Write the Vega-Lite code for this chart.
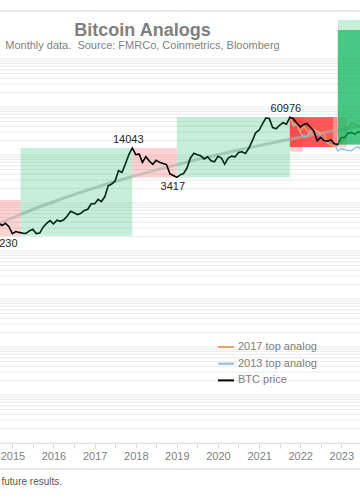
{
 "$schema": "https://vega.github.io/schema/vega-lite/v6.json",
 "width": 360, "height": 432,
 "autosize": {"type": "none"},
 "padding": {"left": 0, "top": 11, "right": 0, "bottom": 56},
 "background": "white",
 "config": {"view": {"stroke": null}, "font": "Liberation Sans"},
 "title": {"text": "Bitcoin Analogs", "subtitle": "Monthly data.\u00a0 Source: FMRCo, Coinmetrics, Bloomberg", "anchor": "middle", "dx": -37.5, "offset": -40, "fontSize": 18, "fontWeight": "bold", "color": "#7f7f7f", "subtitleFontSize": 11, "subtitleColor": "#7f7f7f", "subtitlePadding": 0, "font": "Liberation Sans", "subtitleFont": "Liberation Sans"},
 "datasets": {
  "hgrid": [{"v":0.01},{"v":0.02},{"v":0.03},{"v":0.04},{"v":0.05},{"v":0.06},{"v":0.07},{"v":0.08},{"v":0.09},
   {"v":0.1},{"v":0.2},{"v":0.3},{"v":0.4},{"v":0.5},{"v":0.6},{"v":0.7},{"v":0.8},{"v":0.9},
   {"v":1},{"v":2},{"v":3},{"v":4},{"v":5},{"v":6},{"v":7},{"v":8},{"v":9},
   {"v":10},{"v":20},{"v":30},{"v":40},{"v":50},{"v":60},{"v":70},{"v":80},{"v":90},
   {"v":100},{"v":200},{"v":300},{"v":400},{"v":500},{"v":600},{"v":700},{"v":800},{"v":900},
   {"v":1000},{"v":2000},{"v":3000},{"v":4000},{"v":5000},{"v":6000},{"v":7000},{"v":8000},{"v":9000},
   {"v":10000},{"v":20000},{"v":30000},{"v":40000},{"v":50000},{"v":60000},{"v":70000},{"v":80000},{"v":90000},
   {"v":100000},{"v":200000},{"v":300000},{"v":400000},{"v":500000},{"v":600000},{"v":700000},{"v":800000},{"v":900000},
   {"v":1000000}],
  "vgrid": [{"date":"2015-01-01"},{"date":"2015-07-01"},{"date":"2016-01-01"},{"date":"2016-07-01"},{"date":"2017-01-01"},{"date":"2017-07-01"},{"date":"2018-01-01"},{"date":"2018-07-01"},{"date":"2019-01-01"},{"date":"2019-07-01"},{"date":"2020-01-01"},{"date":"2020-07-01"},{"date":"2021-01-01"},{"date":"2021-07-01"},{"date":"2022-01-01"},{"date":"2022-07-01"},{"date":"2023-01-01"}],
  "redboxes": [
   {"date":"2013-11-01","end":"2015-03-15","low":205,"high":1155},
   {"date":"2017-12-01","end":"2019-01-01","low":3417,"high":14043},
   {"date":"2021-10-01","end":"2022-01-25","low":11700,"high":60976},
   {"date":"2021-10-01","end":"2022-10-20","low":14700,"high":60976},
   {"date":"2021-10-01","end":"2022-10-20","low":14700,"high":60976},
   {"date":"2021-10-01","end":"2022-10-20","low":14700,"high":60976},
   {"date":"2021-10-01","end":"2022-11-25","low":14700,"high":60976},
   {"date":"2021-10-01","end":"2022-11-25","low":14700,"high":60976},
   {"date":"2021-10-01","end":"2023-02-20","low":14700,"high":60976}
  ],
  "greenboxes": [
   {"date":"2015-03-15","end":"2017-12-01","low":208,"high":14043},
   {"date":"2019-01-01","end":"2021-10-01","low":3417,"high":60976},
   {"date":"2022-12-01","end":"2026-01-01","low":16548,"high":6500000},
   {"date":"2022-12-01","end":"2026-01-01","low":16548,"high":4000000},
   {"date":"2022-12-01","end":"2026-01-01","low":16548,"high":4000000},
   {"date":"2022-12-01","end":"2026-01-01","low":16548,"high":4000000},
   {"date":"2022-12-01","end":"2026-01-01","low":16548,"high":4000000}
  ],
  "trend": [
   {"date":"2014-07-01","v":318},{"date":"2015-01-01","v":491},{"date":"2015-07-01","v":732},{"date":"2016-01-01","v":1061},{"date":"2016-07-01","v":1498},{"date":"2017-01-01","v":2068},{"date":"2017-07-01","v":2799},{"date":"2018-01-01","v":3724},{"date":"2018-07-01","v":4881},{"date":"2019-01-01","v":6310},{"date":"2019-07-01","v":8054},{"date":"2020-01-01","v":10163},{"date":"2020-07-01","v":12693},{"date":"2021-01-01","v":15703},{"date":"2021-07-01","v":19259},{"date":"2022-01-01","v":23418},{"date":"2022-07-01","v":28281},{"date":"2023-01-01","v":33926},{"date":"2023-07-01","v":40458},{"date":"2024-01-01","v":47907}
  ],
  "a17": [
   {"date":"2021-10-01","v":60976},{"date":"2021-11-01","v":44380},{"date":"2021-12-01","v":45144},{"date":"2022-01-01","v":30277},{"date":"2022-02-01","v":40120},{"date":"2022-03-01","v":32539},{"date":"2022-04-01","v":27806},{"date":"2022-05-01","v":33781},{"date":"2022-06-01","v":30555},{"date":"2022-07-01","v":28766},{"date":"2022-08-01","v":27429},{"date":"2022-09-01","v":17442},{"date":"2022-10-01","v":16248},{"date":"2022-11-01","v":14837},{"date":"2022-12-01","v":16734},{"date":"2023-01-01","v":17824},{"date":"2023-02-01","v":23230},{"date":"2023-03-01","v":37228},{"date":"2023-04-01","v":46967},{"date":"2023-05-01","v":43789},{"date":"2023-06-01","v":41813},{"date":"2023-07-01","v":36008}
  ],
  "a13": [
   {"date":"2021-10-01","v":60976},{"date":"2021-11-01","v":39962},{"date":"2021-12-01","v":43990},{"date":"2022-01-01","v":29150},{"date":"2022-02-01","v":24221},{"date":"2022-03-01","v":23744},{"date":"2022-04-01","v":33284},{"date":"2022-05-01","v":33920},{"date":"2022-06-01","v":31111},{"date":"2022-07-01","v":25440},{"date":"2022-08-01","v":20511},{"date":"2022-09-01","v":17914},{"date":"2022-10-01","v":20034},{"date":"2022-11-01","v":16960},{"date":"2022-12-01","v":12190},{"date":"2023-01-01","v":13462},{"date":"2023-02-01","v":12932},{"date":"2023-03-01","v":12508},{"date":"2023-04-01","v":12190},{"date":"2023-05-01","v":13939},{"date":"2023-06-01","v":15052},{"date":"2023-07-01","v":12190}
  ],
  "btc": [
   {"date":"2014-08-01","v":480},{"date":"2014-09-01","v":387},{"date":"2014-10-01","v":338},{"date":"2014-11-01","v":378},{"date":"2014-12-01","v":320},
   {"date":"2015-01-01","v":230},{"date":"2015-02-01","v":254},{"date":"2015-03-01","v":244},{"date":"2015-04-01","v":236},{"date":"2015-05-01","v":232},{"date":"2015-06-01","v":263},{"date":"2015-07-01","v":284},{"date":"2015-08-01","v":231},{"date":"2015-09-01","v":236},{"date":"2015-10-01","v":314},{"date":"2015-11-01","v":377},{"date":"2015-12-01","v":430},
   {"date":"2016-01-01","v":368},{"date":"2016-02-01","v":437},{"date":"2016-03-01","v":416},{"date":"2016-04-01","v":448},{"date":"2016-05-01","v":531},{"date":"2016-06-01","v":673},{"date":"2016-07-01","v":624},{"date":"2016-08-01","v":575},{"date":"2016-09-01","v":609},{"date":"2016-10-01","v":698},{"date":"2016-11-01","v":742},{"date":"2016-12-01","v":963},
   {"date":"2017-01-01","v":970},{"date":"2017-02-01","v":1190},{"date":"2017-03-01","v":1071},{"date":"2017-04-01","v":1348},{"date":"2017-05-01","v":2286},{"date":"2017-06-01","v":2480},{"date":"2017-07-01","v":2875},{"date":"2017-08-01","v":4703},{"date":"2017-09-01","v":4338},{"date":"2017-10-01","v":6468},{"date":"2017-11-01","v":10233},{"date":"2017-12-01","v":14043},
   {"date":"2018-01-01","v":10221},{"date":"2018-02-01","v":10397},{"date":"2018-03-01","v":6973},{"date":"2018-04-01","v":9240},{"date":"2018-05-01","v":7494},{"date":"2018-06-01","v":6404},{"date":"2018-07-01","v":7780},{"date":"2018-08-01","v":7037},{"date":"2018-09-01","v":6625},{"date":"2018-10-01","v":6317},{"date":"2018-11-01","v":4017},{"date":"2018-12-01","v":3742},
   {"date":"2019-01-01","v":3417},{"date":"2019-02-01","v":3854},{"date":"2019-03-01","v":4105},{"date":"2019-04-01","v":5350},{"date":"2019-05-01","v":8574},{"date":"2019-06-01","v":10817},{"date":"2019-07-01","v":10085},{"date":"2019-08-01","v":9630},{"date":"2019-09-01","v":8293},{"date":"2019-10-01","v":9199},{"date":"2019-11-01","v":7569},{"date":"2019-12-01","v":7193},
   {"date":"2020-01-01","v":9350},{"date":"2020-02-01","v":8599},{"date":"2020-03-01","v":6438},{"date":"2020-04-01","v":8658},{"date":"2020-05-01","v":9461},{"date":"2020-06-01","v":9137},{"date":"2020-07-01","v":11323},{"date":"2020-08-01","v":11680},{"date":"2020-09-01","v":10784},{"date":"2020-10-01","v":13781},{"date":"2020-11-01","v":19625},{"date":"2020-12-01","v":29001},
   {"date":"2021-01-01","v":33114},{"date":"2021-02-01","v":45137},{"date":"2021-03-01","v":58918},{"date":"2021-04-01","v":57750},{"date":"2021-05-01","v":37332},{"date":"2021-06-01","v":35041},{"date":"2021-07-01","v":41626},{"date":"2021-08-01","v":47167},{"date":"2021-09-01","v":43790},{"date":"2021-10-01","v":60976},{"date":"2021-11-01","v":57005},{"date":"2021-12-01","v":46306},
   {"date":"2022-01-01","v":38483},{"date":"2022-02-01","v":43194},{"date":"2022-03-01","v":45538},{"date":"2022-04-01","v":37714},{"date":"2022-05-01","v":31792},{"date":"2022-06-01","v":19785},{"date":"2022-07-01","v":23336},{"date":"2022-08-01","v":20050},{"date":"2022-09-01","v":19432},{"date":"2022-10-01","v":20495},{"date":"2022-11-01","v":17168},{"date":"2022-12-01","v":16548},
   {"date":"2023-01-01","v":23139},{"date":"2023-02-01","v":23147},{"date":"2023-03-01","v":28478},{"date":"2023-04-01","v":29268},{"date":"2023-05-01","v":27219},{"date":"2023-06-01","v":30477},{"date":"2023-07-01","v":29230}
  ],
  "peaks": [{"date":"2017-12-01","v":14043},{"date":"2021-10-01","v":60976}],
  "troughs": [{"date":"2015-01-01","v":230},{"date":"2019-01-01","v":3417}],
  "frame": [{"v":10000000},{"v":0.00287}]
 },
 "encoding": {
  "x": {"field": "date", "type": "temporal",
   "scale": {"domain": [{"year": 2014, "month": 9, "date": 13}, {"year": 2023, "month": 6, "date": 16}]},
   "axis": {"values": [{"year":2015,"month":1,"date":1},{"year":2015,"month":7,"date":1},{"year":2016,"month":1,"date":1},{"year":2016,"month":7,"date":1},{"year":2017,"month":1,"date":1},{"year":2017,"month":7,"date":1},{"year":2018,"month":1,"date":1},{"year":2018,"month":7,"date":1},{"year":2019,"month":1,"date":1},{"year":2019,"month":7,"date":1},{"year":2020,"month":1,"date":1},{"year":2020,"month":7,"date":1},{"year":2021,"month":1,"date":1},{"year":2021,"month":7,"date":1},{"year":2022,"month":1,"date":1},{"year":2022,"month":7,"date":1},{"year":2023,"month":1,"date":1}],
    "labelExpr": "month(datum.value) == 0 ? timeFormat(datum.value, '%Y') : ''",
    "grid": false, "domainColor": "#d9d9d9", "tickColor": "#d9d9d9", "tickSize": 5,
    "labelColor": "#7f7f7f", "labelFontSize": 11, "labelPadding": 2, "labelDx": 3, "labelFont": "Liberation Sans",
    "title": "future results.", "titleX": 1, "titleY": 38, "titleAlign": "left", "titleBaseline": "middle", "titleAnchor": "start",
    "titleFontSize": 10, "titleFontWeight": "normal", "titleColor": "#595959", "titleFont": "Liberation Sans"}},
  "y": {"field": "v", "type": "quantitative", "scale": {"type": "log", "domain": [0.01, 10000000]}, "axis": null}
 },
 "layer": [
  {
   "data": {"name": "vgrid"},
   "mark": {"type": "rule", "color": "#ebebeb", "strokeWidth": 1},
   "encoding": {
    "y": {"datum": 1000000, "type": "quantitative"},
    "y2": {"datum": 0.01}
   }
  },
  {
   "data": {"name": "hgrid"},
   "mark": {"type": "rule", "color": "#ebebeb", "strokeWidth": 1},
   "encoding": {"x": null}
  },
  {
   "data": {"name": "frame"},
   "mark": {"type": "rule", "color": "#d0d0d0", "strokeWidth": 1, "clip": false},
   "encoding": {"x": null}
  },
  {
   "data": {"name": "redboxes"},
   "mark": {"type": "rect", "color": "#ff1f1f", "opacity": 0.2, "clip": true},
   "encoding": {
    "x2": {"field": "end"},
    "y": {"field": "low", "type": "quantitative"},
    "y2": {"field": "high"}
   }
  },
  {
   "data": {"name": "trend"},
   "mark": {"type": "line", "color": "#b0b0b0", "opacity": 0.6, "strokeWidth": 3, "interpolate": "monotone", "clip": true}
  },
  {
   "data": {"name": "a13"},
   "mark": {"type": "line", "strokeWidth": 1.3, "clip": true},
   "encoding": {
    "stroke": {"datum": "2013 top analog", "type": "nominal"}
   }
  },
  {
   "data": {"name": "a17"},
   "mark": {"type": "line", "strokeWidth": 1.3, "clip": true},
   "encoding": {
    "stroke": {"datum": "2017 top analog", "type": "nominal"}
   }
  },
  {
   "data": {"name": "btc"},
   "mark": {"type": "line", "strokeWidth": 1.6, "clip": true},
   "encoding": {
    "stroke": {"datum": "BTC price", "type": "nominal",
      "scale": {"domain": ["2017 top analog", "2013 top analog", "BTC price"], "range": ["#f5a05c", "#8fb9e3", "#000000"]},
      "legend": {"orient": "none", "legendX": 217, "legendY": 327, "title": null, "labelFontSize": 11, "labelColor": "#7f7f7f", "labelFont": "Liberation Sans", "symbolType": "stroke", "symbolSize": 256, "symbolStrokeWidth": 2, "rowPadding": 2.7, "labelOffset": 3, "padding": 0}}
   }
  },
  {
   "data": {"name": "greenboxes"},
   "mark": {"type": "rect", "color": "#00b050", "opacity": 0.22, "clip": true},
   "encoding": {
    "x2": {"field": "end"},
    "y": {"field": "low", "type": "quantitative"},
    "y2": {"field": "high"}
   }
  },
  {
   "data": {"name": "peaks"},
   "mark": {"type": "text", "fontSize": 11, "color": "#262626", "baseline": "alphabetic", "dy": -5, "dx": -4, "font": "Liberation Sans"},
   "encoding": {
    "text": {"field": "v", "type": "quantitative", "format": "d"}
   }
  },
  {
   "data": {"name": "troughs"},
   "mark": {"type": "text", "fontSize": 11, "color": "#262626", "baseline": "top", "dy": 4, "dx": -4, "font": "Liberation Sans"},
   "encoding": {
    "text": {"field": "v", "type": "quantitative", "format": "d"}
   }
  }
 ]
}
